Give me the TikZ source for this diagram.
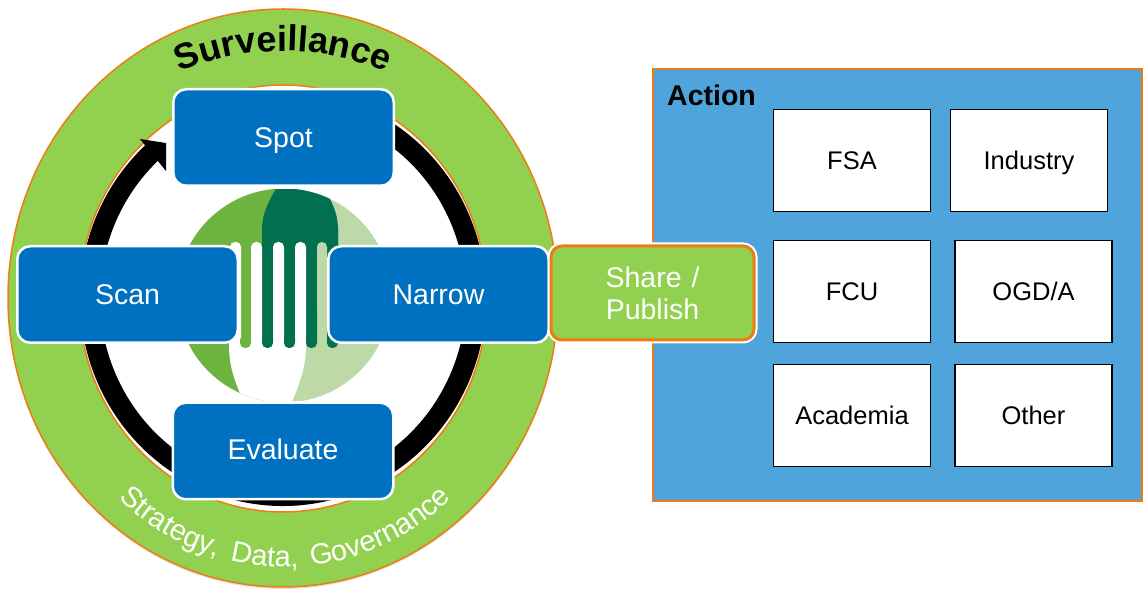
\documentclass[tikz,border=0pt]{standalone}
\usepackage{fontspec}
\setmainfont{Liberation Sans}
\newfontfamily\ringfont[WordSpace=1.6]{Liberation Sans}
\usetikzlibrary{positioning,decorations.text}

\definecolor{ringgreen}{HTML}{92D050}
\definecolor{ringorange}{HTML}{ED7D12}
\definecolor{stepblue}{HTML}{0070C0}
\definecolor{actionblue}{HTML}{4FA5DB}
\definecolor{forkmid}{HTML}{6DB33F}
\definecolor{forkdark}{HTML}{00704F}
\definecolor{forkpale}{HTML}{BDD9A8}

\tikzset{
    stepbox/.style={draw=white, fill=stepblue, line width=2.5pt, rounded corners=13pt,
        minimum width=220.5pt, minimum height=96.5pt, text=white,
        text height=20pt, text depth=0pt,
        font=\fontsize{28.5}{32}\selectfont},
    sharebox/.style={draw=ringorange, fill=ringgreen, line width=3pt, rounded corners=11pt,
        preaction={draw=white, line width=7pt},
        minimum width=203pt, minimum height=94pt, text=white, align=center,
        font=\fontsize{28.5}{32}\selectfont},
    partnerbox/.style={draw=black, fill=white, line width=1.8pt,
        minimum width=157pt, minimum height=102pt,
        text height=18pt, text depth=0pt,
        font=\fontsize{25.5}{30}\selectfont},
}

\begin{document}
\begin{tikzpicture}[x=1pt, y=1pt]
    \useasboundingbox (0,0) rectangle (1144,592);

    % Surveillance ring
    \fill[black!12] (283,292) ellipse[x radius=275, y radius=289];
    \draw[ringorange, line width=1.5pt, fill=ringgreen] (283,294) ellipse[x radius=275, y radius=289];
    \draw[ringorange, line width=1.5pt, fill=white] (283,293.5) ellipse[x radius=204, y radius=213.5];

    % Cycle arrow
    \draw[black, line width=20pt] (283,294) ++(60:193 and 198)
        arc[start angle=60, end angle=-228, x radius=193, y radius=198];
    \fill[black] (140,453) -- (166,449) -- (166,421) -- cycle;

    % Fork logo
    \begin{scope}
        \clip (170,191) rectangle (400,402);
        \clip (284,296.5) circle (107);
        \fill[forkmid] (170,180) rectangle (284,410);
        \fill[forkpale] (284,180) rectangle (400,410);
        \fill[white] (229,257) -- (306,257) -- (306,247) .. controls (306,225) and (300,210) .. (292,190)
            -- (243,192) .. controls (235,210) and (229,225) .. (229,247) -- cycle;
        \fill[forkmid, rounded corners=5pt] (240,244) rectangle (251,340);
        \foreach \tine in {262,284,306,327} {
            \fill[forkdark, rounded corners=5pt] (\tine,244) rectangle (\tine+11,370);
        }
        \fill[forkdark] (262,340) -- (262,362) .. controls (262,380) and (270,393) .. (277,405)
            -- (322,405) .. controls (331,393) and (338,380) .. (338,362) -- (338,340) -- cycle;
        \foreach \slot in {230,251,273,295} {
            \fill[white, rounded corners=5pt] (\slot,250) rectangle (\slot+11,350);
        }
        \fill[forkpale, rounded corners=5pt] (317,280) rectangle (327,350);
    \end{scope}

    % Curved labels
    \path[decorate, decoration={text along path, text align=center,
        text={|\bfseries\fontsize{36}{42}\selectfont|Surveillance}}]
        (283,294) ++(140:255 and 247) arc[start angle=140, end angle=40, x radius=255, y radius=247];
    \path[decorate, decoration={text along path, text align=center,
        text={|\ringfont\fontsize{29}{32}\selectfont\color{white}|Strategy, Data, Governance}}]
        (285,294) ++(205:250 and 269) arc[start angle=205, end angle=335, x radius=250, y radius=269];

    % Action panel
    \node[draw=ringorange, fill=actionblue, line width=1.5pt, minimum width=489pt, minimum height=432pt]
        (action) at (897.5,307) {};
    \node[anchor=west, inner sep=0pt, font=\bfseries\fontsize{28.5}{32}\selectfont] (actionlabel) at (667,497) {Action};
    \foreach \boxname/\boxtext/\px/\py in {fsa/FSA/852/431.5, industry/Industry/1029/431.5,
        fcu/FCU/852/300.5, ogda/OGD\slash A/1033.5/300.5,
        academia/Academia/852/176.5, other/Other/1033.5/176.5} {
        \node[partnerbox] (\boxname) at (\px,\py) {\boxtext};
    }

    % Steps
    \node[stepbox] (spot) at (283.5,454.5) {Spot};
    \node[stepbox] (scan) at (127.5,297.5) {Scan};
    \node[stepbox] (narrow) at (438.5,297.5) {Narrow};
    \node[stepbox, text depth=2pt] (evaluate) at (283,141) {Evaluate};
    \node[sharebox] (share) at (652.5,299) {Share\hspace{2pt} /\\Publish};
\end{tikzpicture}
\end{document}
